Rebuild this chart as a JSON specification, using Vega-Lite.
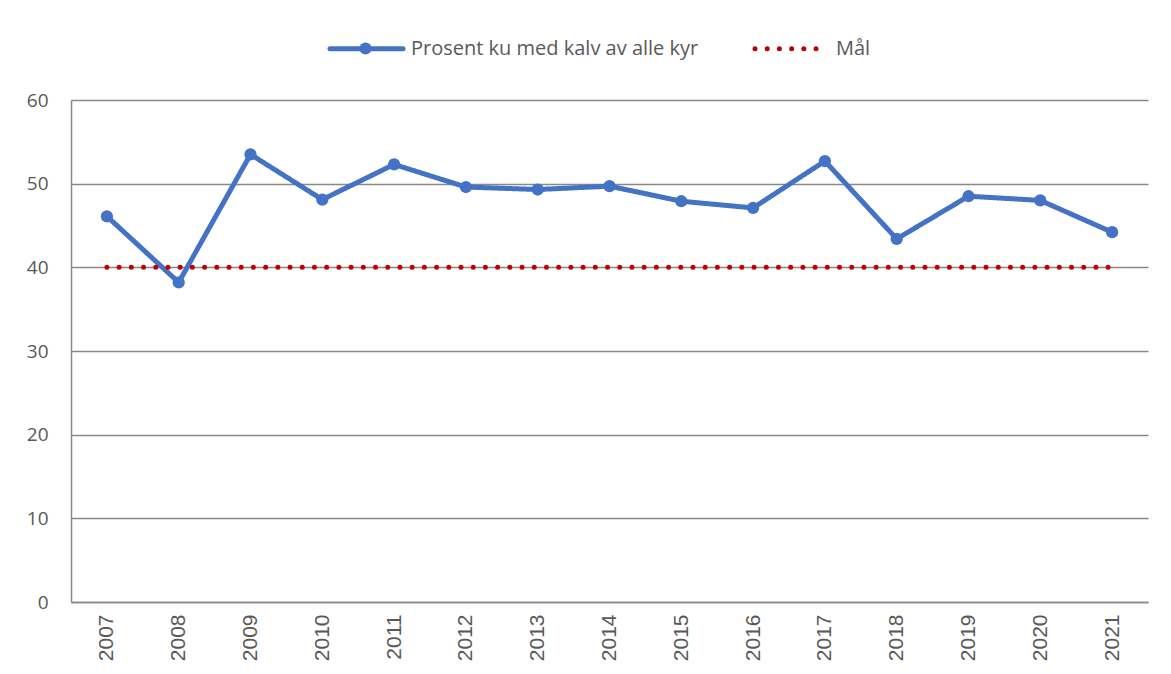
{
  "$schema": "https://vega.github.io/schema/vega-lite/v6.json",
  "autosize": "none",
  "width": 1077,
  "height": 502,
  "padding": {"left": 71, "top": 100, "right": 23, "bottom": 72},
  "background": "white",
  "config": {
    "font": "Open Sans",
    "view": {"stroke": null}
  },
  "data": {
    "values": [
      {"year": "2007", "series": "Prosent ku med kalv av alle kyr", "value": 46.1},
      {"year": "2008", "series": "Prosent ku med kalv av alle kyr", "value": 38.2},
      {"year": "2009", "series": "Prosent ku med kalv av alle kyr", "value": 53.5},
      {"year": "2010", "series": "Prosent ku med kalv av alle kyr", "value": 48.1},
      {"year": "2011", "series": "Prosent ku med kalv av alle kyr", "value": 52.3},
      {"year": "2012", "series": "Prosent ku med kalv av alle kyr", "value": 49.6},
      {"year": "2013", "series": "Prosent ku med kalv av alle kyr", "value": 49.3},
      {"year": "2014", "series": "Prosent ku med kalv av alle kyr", "value": 49.7},
      {"year": "2015", "series": "Prosent ku med kalv av alle kyr", "value": 47.9},
      {"year": "2016", "series": "Prosent ku med kalv av alle kyr", "value": 47.1},
      {"year": "2017", "series": "Prosent ku med kalv av alle kyr", "value": 52.7},
      {"year": "2018", "series": "Prosent ku med kalv av alle kyr", "value": 43.4},
      {"year": "2019", "series": "Prosent ku med kalv av alle kyr", "value": 48.5},
      {"year": "2020", "series": "Prosent ku med kalv av alle kyr", "value": 48.0},
      {"year": "2021", "series": "Prosent ku med kalv av alle kyr", "value": 44.2},
      {"year": "2007", "series": "Mål", "value": 40},
      {"year": "2008", "series": "Mål", "value": 40},
      {"year": "2009", "series": "Mål", "value": 40},
      {"year": "2010", "series": "Mål", "value": 40},
      {"year": "2011", "series": "Mål", "value": 40},
      {"year": "2012", "series": "Mål", "value": 40},
      {"year": "2013", "series": "Mål", "value": 40},
      {"year": "2014", "series": "Mål", "value": 40},
      {"year": "2015", "series": "Mål", "value": 40},
      {"year": "2016", "series": "Mål", "value": 40},
      {"year": "2017", "series": "Mål", "value": 40},
      {"year": "2018", "series": "Mål", "value": 40},
      {"year": "2019", "series": "Mål", "value": 40},
      {"year": "2020", "series": "Mål", "value": 40},
      {"year": "2021", "series": "Mål", "value": 40}
    ]
  },
  "encoding": {
    "x": {
      "field": "year", "type": "ordinal", "title": null,
      "scale": {"type": "point", "padding": 0.5},
      "axis": {
        "labelAngle": -90, "labelFontSize": 21, "labelFont": "Liberation Sans",
        "labelColor": "#595959",
        "labelPadding": 12, "ticks": false, "domainColor": "#898989",
        "domainWidth": 1.5, "grid": false
      }
    },
    "y": {
      "field": "value", "type": "quantitative", "title": null,
      "scale": {"domain": [0, 60], "nice": false, "zero": true},
      "axis": {
        "values": [0, 10, 20, 30, 40, 50, 60],
        "labelFontSize": 19, "labelColor": "#595959", "labelPadding": 23,
        "ticks": false, "domainColor": "#898989", "domainWidth": 1.5,
        "grid": true, "gridColor": "#898989", "gridWidth": 1.5
      }
    }
  },
  "layer": [
    {
      "mark": {"type": "line", "strokeCap": "round", "strokeJoin": "round", "strokeWidth": 5},
      "encoding": {
        "color": {
          "field": "series", "type": "nominal",
          "scale": {
            "domain": ["Prosent ku med kalv av alle kyr", "Mål"],
            "range": ["#4472C4", "#C00000"]
          },
          "legend": {
            "title": null, "orient": "none", "direction": "horizontal",
            "legendX": 256, "legendY": -91,
            "labelFontSize": 20, "labelColor": "#595959", "labelLimit": 500,
            "symbolType": "stroke", "symbolSize": 5330, "symbolStrokeWidth": 5,
            "columnPadding": 45, "labelOffset": 5,
            "encode": {"symbols": {"update": {"strokeCap": {"value": "round"}}}}
          }
        },
        "strokeDash": {
          "field": "series", "type": "nominal",
          "scale": {
            "domain": ["Prosent ku med kalv av alle kyr", "Mål"],
            "range": [[1, 0], [0.01, 12.2]]
          }
        }
      }
    },
    {
      "transform": [{"filter": "datum.series !== 'Mål'"}],
      "mark": {"type": "point", "filled": true, "opacity": 1, "size": 150, "color": "#4472C4"},
      "encoding": {
        "shape": {
          "field": "series", "type": "nominal",
          "scale": {"domain": ["Prosent ku med kalv av alle kyr"], "range": ["circle"]},
          "legend": {
            "title": null, "orient": "none", "direction": "horizontal",
            "legendX": 288, "legendY": -58,
            "labelExpr": "''", "labelFontSize": 1,
            "symbolSize": 150, "symbolFillColor": "#4472C4", "symbolStrokeColor": "#4472C4",
            "symbolStrokeWidth": 0, "symbolOpacity": 1
          }
        }
      }
    }
  ]
}
